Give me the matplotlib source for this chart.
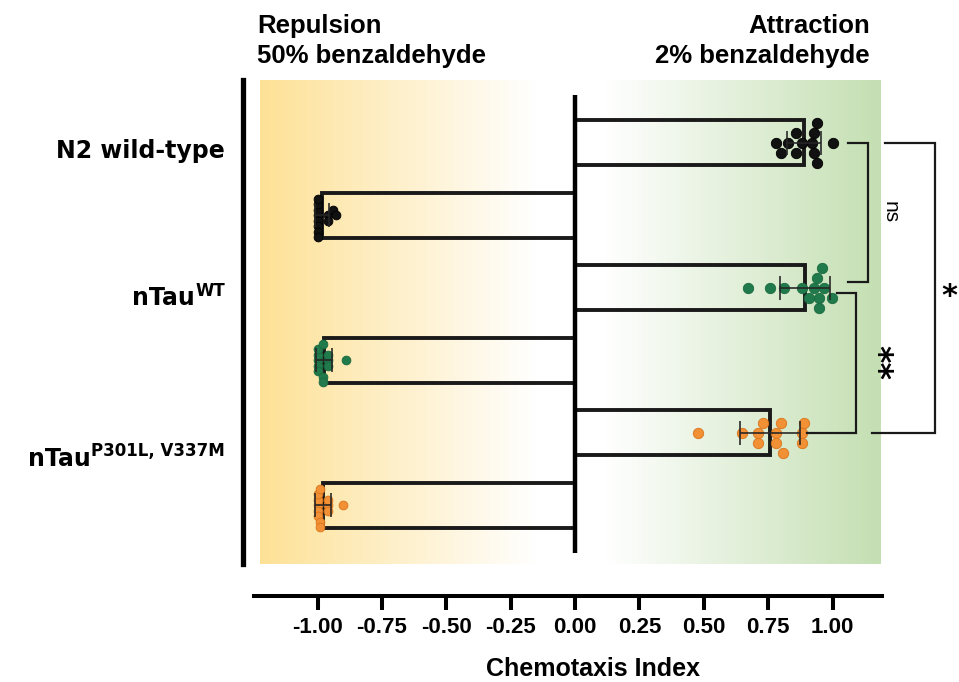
import numpy as np
import matplotlib
matplotlib.use("Agg")
import matplotlib.pyplot as plt
import matplotlib.transforms as mtransforms
from matplotlib.colors import to_rgb

plt.rcParams['font.family'] = ['Liberation Sans', 'DejaVu Sans']

# ---------------- data ----------------
group_main = ["N2 wild-type", "nTau", "nTau"]
group_sup = ["", "WT", "P301L, V337M"]
group_colors = ["#111111", "#217A4B", "#F29035"]
group_edges = ["#000000", "#1A6A40", "#D9741A"]

attr_n2 = [0.939, 0.799, 0.858, 0.928, 0.827, 0.880, 0.919, 1.001, 0.781, 0.858, 0.928, 0.939]
rep_n2 = [-1.00, -1.00, -1.00, -1.00, -1.00, -1.00, -1.00, -1.00, -0.96, -0.96, -0.94, -0.93]
attr_wt = [0.928, 0.968, 0.960, 0.999, 0.671, 0.757, 0.812, 0.880, 0.949, 0.910, 0.949, 0.939]
rep_wt = [-1.00, -1.00, -1.00, -1.00, -1.00, -0.98, -0.98, -0.98, -0.96, -0.96, -0.96, -0.89]
attr_mut = [0.799, 0.880, 0.710, 0.781, 0.479, 0.647, 0.890, 0.710, 0.781, 0.880, 0.731, 0.809]
rep_mut = [-1.00, -1.00, -1.00, -1.00, -1.00, -0.99, -0.99, -0.99, -0.96, -0.96, -0.96, -0.90]

series = [attr_n2, rep_n2, attr_wt, rep_wt, attr_mut, rep_mut]
series_group = [0, 0, 1, 1, 2, 2]

xticks = [-1.00, -0.75, -0.50, -0.25, 0.00, 0.25, 0.50, 0.75, 1.00]
xtick_labels = ["%.2f" % v for v in xticks]

title_left = ["Repulsion", "50% benzaldehyde"]
title_right = ["Attraction", "2% benzaldehyde"]
xlabel = "Chemotaxis Index"

# significance comparisons: (bar index a, bar index b, label)
comparisons = [(0, 2, "ns"), (2, 4, "**"), (0, 4, "*")]

# ---------------- layout ----------------
W, H = 959, 682
fig = plt.figure(figsize=(W / 100, H / 100), dpi=100)
ax_l, ax_r, ax_t, ax_b = 260, 881, 80, 564
ax = fig.add_axes([ax_l / W, (H - ax_b) / H, (ax_r - ax_l) / W, (ax_b - ax_t) / H])
xlim = (-1.2233, 1.1883)
ylim = (5.806, -0.861)
ax.set_xlim(*xlim)
ax.set_ylim(*ylim)

xpx = (ax_r - ax_l) / (xlim[1] - xlim[0])   # pixels per x unit
ypx = (ax_b - ax_t) / (ylim[0] - ylim[1])   # pixels per y unit

positions = np.arange(len(series))

# background gradient
xs = np.linspace(xlim[0], xlim[1], 800)
yellow = np.array(to_rgb("#FDE196"))
green = np.array(to_rgb("#C4DFB2"))
white = np.ones(3)
t_left = np.clip((-0.15 - xs) / (-0.15 - xlim[0]), 0, 1)
t_right = np.clip((xs - 0.12) / (xlim[1] - 0.12), 0, 1)
img = (white[None, :] * (1 - t_left - t_right)[:, None]
       + yellow[None, :] * t_left[:, None]
       + green[None, :] * t_right[:, None])
ax.imshow(img[None, :, :], extent=[xlim[0], xlim[1], ylim[0], ylim[1]],
          aspect="auto", zorder=0, interpolation="bilinear")
ax.set_xlim(*xlim)
ax.set_ylim(*ylim)


def swarm(vals, step, mind):
    vals = np.asarray(vals)
    order = np.argsort(vals, kind="stable")
    placed = []
    offs = np.zeros(len(vals))
    cands = [0.0]
    for j in range(1, 40):
        cands += [j * step, -j * step]
    for i in order:
        xp = vals[i] * xpx
        for c in cands:
            if all((xp - px) ** 2 + (c - py) ** 2 >= mind ** 2 - 1e-6 for px, py in placed):
                offs[i] = c
                placed.append((xp, c))
                break
    return offs / ypx


means = [np.mean(s) for s in series]
sds = [np.std(s, ddof=1) for s in series]

# bars
ax.barh(positions, means, height=0.62, fill=False, edgecolor="#1a1a1a",
        linewidth=2.8, zorder=3)
# zero line
ax.plot([0, 0], [positions[0] - 0.65, positions[-1] + 0.65], color="black",
        lw=3.2, zorder=4, solid_capstyle="butt")

for k, s in enumerate(series):
    g = series_group[k]
    attract = means[k] > 0
    step, mind, size = (10, 10, 56) if attract else (5.5, 5.5, 40)
    offs = swarm(s, step, mind)
    ax.scatter(s, positions[k] + offs, s=size, color=group_colors[g],
               edgecolors=group_edges[g], linewidths=0.6, zorder=5)
    ax.errorbar(means[k], positions[k], xerr=sds[k], fmt="none", ecolor="#262626",
                elinewidth=1.3, capsize=8.5, capthick=1.3, zorder=6, alpha=0.9)

# spines / axes
for sp in ["top", "right"]:
    ax.spines[sp].set_visible(False)
ax.spines["left"].set_position(("outward", 12.2))
ax.spines["left"].set_linewidth(3.8)
ax.spines["bottom"].set_position(("outward", 23))
ax.spines["bottom"].set_linewidth(2.9)
ax.spines["bottom"].set_bounds(-1.2466, 1.192)
ax.set_yticks([])
ax.set_xticks(xticks)
ax.set_xticklabels(xtick_labels, fontsize=16, fontweight="bold")
ax.tick_params(axis="x", direction="out", length=10, width=2.9, pad=5.5)

fig.text(593 / W, 1 - 676 / H, xlabel, ha="center", va="baseline",
         fontsize=18, fontweight="bold")

# titles
fig.text(257 / W, 1 - 33 / H, title_left[0], ha="left", va="baseline", fontsize=18.5, fontweight="bold")
fig.text(257 / W, 1 - 63 / H, title_left[1], ha="left", va="baseline", fontsize=18.5, fontweight="bold")
fig.text(870 / W, 1 - 33 / H, title_right[0], ha="right", va="baseline", fontsize=18.5, fontweight="bold")
fig.text(870 / W, 1 - 63 / H, title_right[1], ha="right", va="baseline", fontsize=18.5, fontweight="bold")

# group labels
fig.canvas.draw()
renderer = fig.canvas.get_renderer()
blend = mtransforms.blended_transform_factory(ax.transAxes, ax.transData)
label_x = (225 - ax_l) / (ax_r - ax_l)
label_dy = [0.22, 0.245, 0.45]
lab_font = ["DejaVu Sans"]
for g in range(len(group_main)):
    yb = positions[2 * g] + label_dy[g]
    xr = label_x
    if group_sup[g]:
        sup_tr = mtransforms.offset_copy(blend, fig=fig, x=0, y=7, units="points")
        ts = ax.text(label_x, yb, group_sup[g], transform=sup_tr, ha="right", va="baseline",
                     fontsize=12, fontweight="bold", family=lab_font, clip_on=False)
        bb = ts.get_window_extent(renderer)
        xr = ax.transAxes.inverted().transform((bb.x0 - 0.5, 0))[0]
    ax.text(xr, yb, group_main[g], transform=blend, ha="right", va="baseline",
            fontsize=17, fontweight="bold", family=lab_font, clip_on=False)

# significance brackets (layout in data units)
brackets = {
    (0, 2): dict(xa=1.060, xb=1.060, xv=1.138, ya=0.0, yb=1.917, tx=1.223, ty=None,
                 fs=15, fw="normal", rot=270),
    (2, 4): dict(xa=1.016, xb=0.900, xv=1.090, ya=2.069, yb=3.997, tx=1.173, ty=None,
                 fs=24, fw="bold", rot=270),
    (0, 4): dict(xa=1.204, xb=1.152, xv=1.398, ya=0.0, yb=4.0, tx=1.455, ty=2.24,
                 fs=22, fw="bold", rot=0),
}
for a, b, lab in comparisons:
    p = brackets[(a, b)]
    ax.plot([p["xa"], p["xv"], p["xv"], p["xb"]], [p["ya"], p["ya"], p["yb"], p["yb"]],
            color="#1a1a1a", lw=1.6, clip_on=False, zorder=6, solid_joinstyle="miter")
    fam = ["Liberation Sans"] if lab == "ns" else ["DejaVu Sans"]
    if p["ty"] is None:
        ax.text(p["tx"], (p["ya"] + p["yb"]) / 2, lab, rotation=p["rot"], ha="center",
                va="center", fontsize=p["fs"], fontweight=p["fw"], family=fam,
                clip_on=False, rotation_mode="anchor")
    else:
        ax.text(p["tx"], p["ty"], lab, rotation=p["rot"], ha="center", va="baseline",
                fontsize=p["fs"], fontweight=p["fw"], family=fam, clip_on=False)

fig.savefig("out.png", dpi=100)
